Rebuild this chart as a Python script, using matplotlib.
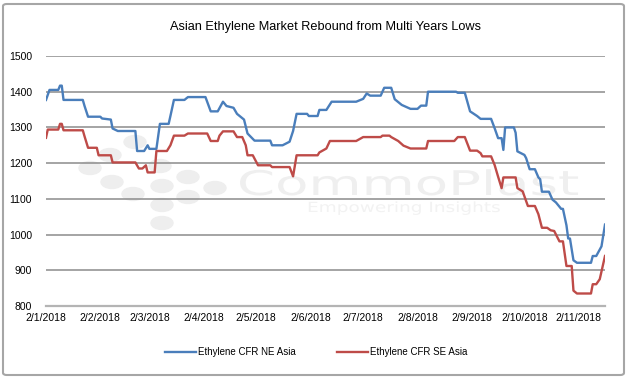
import matplotlib
matplotlib.use('Agg')
import matplotlib.pyplot as plt
import pandas as pd
from matplotlib.patches import FancyBboxPatch, Ellipse, PathPatch
from matplotlib.textpath import TextPath
from matplotlib.font_manager import FontProperties
from matplotlib.transforms import Affine2D

plt.rcParams['font.family'] = ['Liberation Sans', 'DejaVu Sans']

# Ethylene CFR NE Asia (USD/t)
ne_dates = ['2018-01-02', '2018-01-04', '2018-01-09', '2018-01-10', '2018-01-11', '2018-01-12',
            '2018-01-23', '2018-01-24', '2018-01-26', '2018-02-02', '2018-02-03', '2018-02-08',
            '2018-02-09', '2018-02-12', '2018-02-22', '2018-02-23', '2018-02-27', '2018-03-01',
            '2018-03-02', '2018-03-06', '2018-03-07', '2018-03-08', '2018-03-13', '2018-03-14',
            '2018-03-16', '2018-03-22', '2018-03-24', '2018-04-03', '2018-04-06', '2018-04-10',
            '2018-04-13', '2018-04-15', '2018-04-19', '2018-04-21', '2018-04-25', '2018-04-27',
            '2018-05-01', '2018-05-10', '2018-05-11', '2018-05-17', '2018-05-21', '2018-05-23',
            '2018-05-25', '2018-05-31', '2018-06-01', '2018-06-06', '2018-06-07', '2018-06-11',
            '2018-06-14', '2018-06-28', '2018-07-02', '2018-07-04', '2018-07-06', '2018-07-12',
            '2018-07-14', '2018-07-18', '2018-07-20', '2018-07-24', '2018-07-29', '2018-08-02',
            '2018-08-04', '2018-08-07', '2018-08-08', '2018-08-24', '2018-08-25', '2018-08-29',
            '2018-09-01', '2018-09-05', '2018-09-07', '2018-09-13', '2018-09-15', '2018-09-17',
            '2018-09-19', '2018-09-20', '2018-09-21', '2018-09-26', '2018-09-27', '2018-09-28',
            '2018-10-02', '2018-10-03', '2018-10-05', '2018-10-08', '2018-10-10', '2018-10-11',
            '2018-10-12', '2018-10-16', '2018-10-18', '2018-10-20', '2018-10-23', '2018-10-24',
            '2018-10-26', '2018-10-27', '2018-10-28', '2018-10-30', '2018-11-01', '2018-11-09',
            '2018-11-10', '2018-11-12', '2018-11-15', '2018-11-17']
ne_values = [1377, 1405, 1405, 1417, 1417, 1377,
             1377, 1360, 1330, 1330, 1325, 1322,
             1297, 1290, 1290, 1234, 1234, 1250,
             1240, 1240, 1275, 1310, 1310, 1332,
             1377, 1377, 1385, 1385, 1345, 1345,
             1372, 1360, 1355, 1338, 1322, 1283,
             1263, 1263, 1250, 1250, 1260, 1290,
             1338, 1338, 1332, 1332, 1349, 1349,
             1372, 1372, 1380, 1395, 1389, 1389,
             1411, 1411, 1379, 1363, 1352, 1352,
             1361, 1361, 1400, 1400, 1397, 1397,
             1345, 1332, 1324, 1324, 1298, 1270,
             1270, 1237, 1300, 1300, 1285, 1233,
             1223, 1214, 1183, 1183, 1160, 1155,
             1120, 1120, 1098, 1090, 1072, 1072,
             1026, 989, 989, 928, 921, 921,
             940, 940, 967, 1028]

# Ethylene CFR SE Asia (USD/t)
se_dates = ['2018-01-02', '2018-01-03', '2018-01-09', '2018-01-10', '2018-01-11', '2018-01-12',
            '2018-01-23', '2018-01-24', '2018-01-26', '2018-01-31', '2018-02-01', '2018-02-08',
            '2018-02-09', '2018-02-22', '2018-02-24', '2018-02-26', '2018-02-28', '2018-03-01',
            '2018-03-05', '2018-03-06', '2018-03-12', '2018-03-14', '2018-03-16', '2018-03-22',
            '2018-03-24', '2018-04-04', '2018-04-06', '2018-04-10', '2018-04-11', '2018-04-13',
            '2018-04-19', '2018-04-21', '2018-04-24', '2018-04-26', '2018-04-27', '2018-04-30',
            '2018-05-03', '2018-05-10', '2018-05-11', '2018-05-21', '2018-05-23', '2018-05-25',
            '2018-06-06', '2018-06-07', '2018-06-11', '2018-06-13', '2018-06-28', '2018-07-02',
            '2018-07-12', '2018-07-13', '2018-07-17', '2018-07-18', '2018-07-22', '2018-07-25',
            '2018-07-29', '2018-08-07', '2018-08-08', '2018-08-23', '2018-08-25', '2018-08-29',
            '2018-09-01', '2018-09-05', '2018-09-07', '2018-09-08', '2018-09-13', '2018-09-15',
            '2018-09-17', '2018-09-19', '2018-09-20', '2018-09-27', '2018-09-28', '2018-10-01',
            '2018-10-04', '2018-10-08', '2018-10-10', '2018-10-12', '2018-10-15', '2018-10-17',
            '2018-10-19', '2018-10-22', '2018-10-24', '2018-10-26', '2018-10-29', '2018-10-30',
            '2018-11-01', '2018-11-09', '2018-11-10', '2018-11-12', '2018-11-14', '2018-11-17']
se_values = [1271, 1294, 1294, 1310, 1310, 1292,
             1292, 1275, 1243, 1243, 1222, 1222,
             1202, 1202, 1185, 1185, 1194, 1174,
             1174, 1234, 1234, 1250, 1277, 1277,
             1283, 1283, 1262, 1262, 1277, 1289,
             1289, 1273, 1273, 1250, 1222, 1222,
             1194, 1194, 1189, 1189, 1163, 1222,
             1222, 1230, 1241, 1262, 1262, 1273,
             1273, 1277, 1277, 1273, 1262, 1249,
             1241, 1241, 1262, 1262, 1273, 1273,
             1235, 1235, 1228, 1219, 1219, 1195,
             1162, 1130, 1160, 1160, 1130, 1121,
             1080, 1080, 1057, 1019, 1019, 1012,
             1010, 981, 981, 912, 912, 843,
             835, 835, 861, 861, 875, 940]

tick_dates = ['2018-01-02', '2018-02-02', '2018-03-02', '2018-04-02', '2018-05-02', '2018-06-02',
              '2018-07-02', '2018-08-02', '2018-09-02', '2018-10-02', '2018-11-02']
tick_labels = ['2/1/2018', '2/2/2018', '2/3/2018', '2/4/2018', '2/5/2018', '2/6/2018',
               '2/7/2018', '2/8/2018', '2/9/2018', '2/10/2018', '2/11/2018']
y_ticks = [800, 900, 1000, 1100, 1200, 1300, 1400, 1500]

W, H = 628, 378
fig = plt.figure(figsize=(W / 100, H / 100), dpi=100)
ax = fig.add_axes([46 / W, 1 - 306 / H, 559 / W, 250 / H])
ax.patch.set_alpha(0)

# faint CommoPlast watermark behind the chart
dots = [(135, 142), (110, 155), (90, 168), (160, 166), (188, 177), (112, 182),
        (133, 194), (162, 186), (162, 205), (162, 223), (188, 197), (215, 188)]
for cx, cy in dots:
    fig.add_artist(Ellipse((cx / W, 1 - cy / H), 22 / W, 13 / H, transform=fig.transFigure,
                           color='#eeeeee', zorder=-2))
fp = FontProperties(family='DejaVu Sans')
tp = TextPath((0, 0), 'CommoPlast', size=1, prop=fp)
ext = tp.get_extents()
fig.add_artist(PathPatch(tp, transform=Affine2D().scale(338 / ext.width, 34).translate(237, H - 195),
                         fc='#efefef', ec='none', zorder=-2))
tp2 = TextPath((0, 0), 'Empowering Insights', size=1, prop=fp)
ext2 = tp2.get_extents()
fig.add_artist(PathPatch(tp2, transform=Affine2D().scale(191 / ext2.width, 14).translate(307, H - 212),
                         fc='#f2f2f2', ec='none', zorder=-2))

ax.plot(pd.to_datetime(ne_dates), ne_values, color='#4A7EBB', lw=1.7, label='Ethylene CFR NE Asia', zorder=3)
ax.plot(pd.to_datetime(se_dates), se_values, color='#BE4B48', lw=1.7, label='Ethylene CFR SE Asia', zorder=3)

ax.set_xlim(pd.Timestamp('2018-01-02'), pd.Timestamp('2018-11-17'))
ax.set_ylim(800, 1500)
ax.set_yticks(y_ticks)
ax.set_xticks(pd.to_datetime(tick_dates))
ax.set_xticklabels(tick_labels)
ax.grid(axis='y', color='#8c8c8c', lw=1.1)
ax.grid(axis='x', visible=False)
for pos in ['left', 'right', 'top']:
    ax.spines[pos].set_visible(False)
ax.spines['bottom'].set_color('#b4b4b4')
ax.spines['bottom'].set_linewidth(1.6)
ax.tick_params(length=0, labelsize=7.5, colors='#000000')
ax.tick_params(axis='y', pad=10)
ax.tick_params(axis='x', pad=5)

fig.text(325 / W, 1 - 27 / H, 'Asian Ethylene Market Rebound from Multi Years Lows',
         ha='center', va='center', fontsize=9.2, color='#000000')

fig.legend(loc='center', bbox_to_anchor=(316 / W, 1 - 352 / H), ncol=2, frameon=False,
           fontsize=7, handlelength=3.2, columnspacing=4.2, handletextpad=0.2)

fig.add_artist(FancyBboxPatch((3 / W, 3 / H), 621 / W, 371 / H, transform=fig.transFigure,
                              boxstyle='round,pad=0,rounding_size=0.006', fill=False,
                              ec='#a6a6a6', lw=1.5))

fig.savefig('out.png', dpi=100)
